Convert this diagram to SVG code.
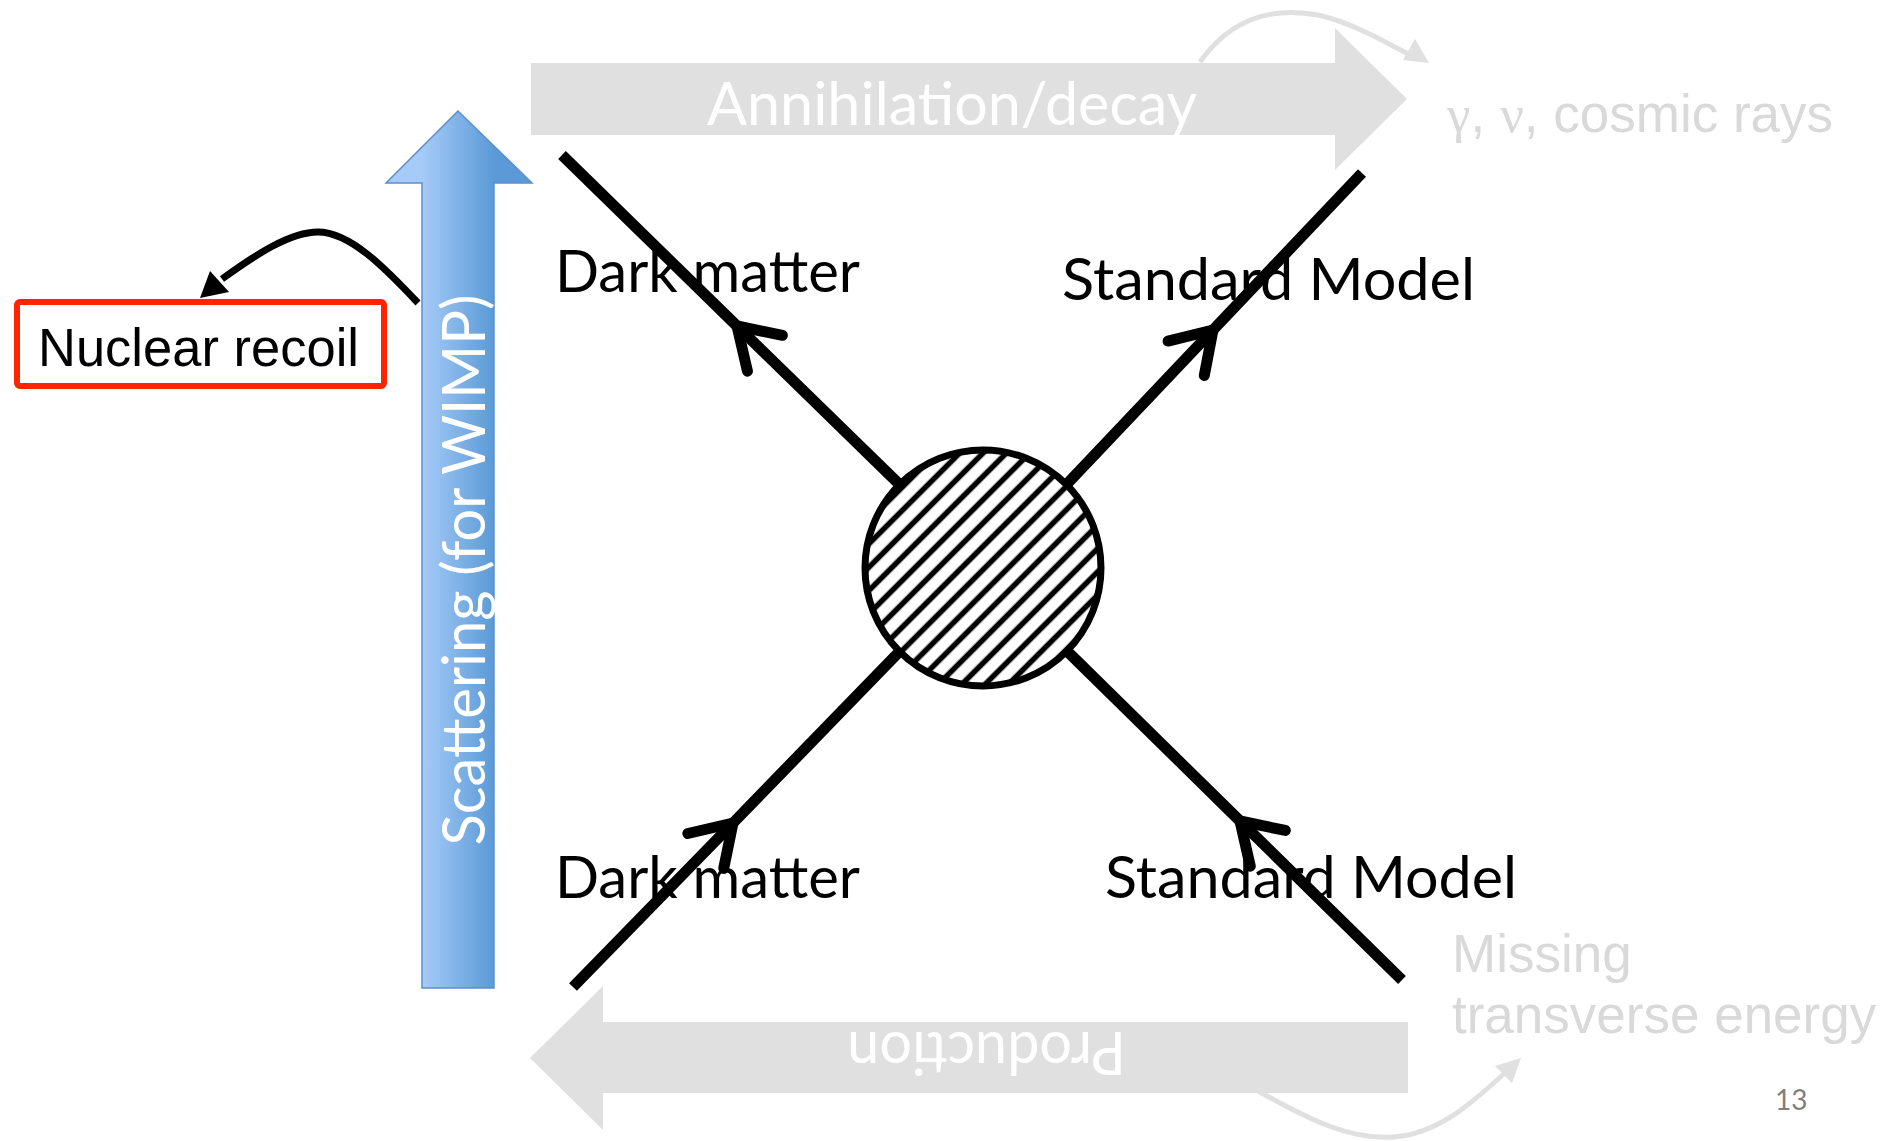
<svg xmlns="http://www.w3.org/2000/svg" width="1890" height="1141" viewBox="0 0 1890 1141">
<style>
.band{fill:#e0e0e0;}
.gcurve{fill:none;stroke:#e0e0e0;stroke-width:5;}
.ghead{fill:#e0e0e0;}
.bandtxt{font-family:Lato,"Open Sans",sans-serif;font-size:60px;fill:#ffffff;}
.lbl{font-family:Lato,"Open Sans",sans-serif;font-size:59px;fill:#000000;}
.gray{font-family:"Liberation Sans",Arial,sans-serif;font-size:53px;fill:#d9d9d9;}
.serif{font-family:"Liberation Serif","Times New Roman",serif;}
.leg{fill:none;stroke:#000;stroke-width:11;marker-mid:url(#chev);}
</style>
<defs>
<marker id="chev" markerUnits="userSpaceOnUse" markerWidth="100" markerHeight="100" refX="0" refY="0" viewBox="-50 -50 100 100" orient="auto" overflow="visible">
<path d="M -39 -25 L 0 0 L -39 25" fill="none" stroke="#000" stroke-width="11" stroke-linecap="round" stroke-linejoin="round"/>
</marker>
<linearGradient id="blue" gradientUnits="userSpaceOnUse" x1="422" y1="0" x2="494" y2="0">
<stop offset="0" stop-color="#a6cbf8"/>
<stop offset="1" stop-color="#5b9ad6"/>
</linearGradient>
<pattern id="hatch" patternUnits="userSpaceOnUse" width="16.5" height="16.5" patternTransform="rotate(-45 983 568)">
<rect width="16.5" height="16.5" fill="#fff"/>
<line x1="0" y1="8.25" x2="16.5" y2="8.25" stroke="#000" stroke-width="5.5"/>
</pattern>
</defs>

<g id="connectors">
<path class="gcurve" d="M 1200 62 C 1235 12, 1280 8, 1318 15 C 1350 22, 1382 40, 1412 56"/>
<polygon class="ghead" points="1429,63 1415,39 1403,60"/>
<path class="gcurve" d="M 1258 1091 C 1310 1120, 1350 1140, 1393 1137 C 1440 1134, 1475 1100, 1507 1071"/>
<polygon class="ghead" points="1521,1058 1495,1066 1512,1083"/>
<path d="M 418 303 C 385 268, 350 232, 318 232 C 290 232, 255 255, 222 279" fill="none" stroke="#000" stroke-width="7"/>
<polygon points="200,298 210,271 229,292" fill="#000"/>
<path class="leg" d="M 898 483 L 737 326 L 562 155"/>
<path class="leg" d="M 1066 485 L 1213 330 L 1362 173"/>
<path class="leg" d="M 573 987 L 733 823 L 900 651"/>
<path class="leg" d="M 1402 980 L 1240 821 L 1067 651"/>
</g>

<g id="annihilation">
<polygon class="band" points="531,63 1335,63 1335,28 1407,99 1335,170 1335,135 531,135"/>
<text class="bandtxt" x="707" y="125" textLength="490" lengthAdjust="spacingAndGlyphs">Annihilation/decay</text>
</g>

<g id="production">
<polygon class="band" points="1408,1022 603,1022 603,986 530,1058 603,1130 603,1093 1408,1093"/>
<text class="bandtxt" x="986.5" y="1032" text-anchor="middle" textLength="279" lengthAdjust="spacingAndGlyphs" transform="rotate(180 986.5 1032)">Production</text>
</g>

<g id="scattering">
<polygon points="458,111 532,183 494,183 494,988 422,988 422,183 386,183" fill="url(#blue)" stroke="#5b8fcf" stroke-width="1.5"/>
<text class="bandtxt" x="0" y="0" text-anchor="middle" textLength="551" lengthAdjust="spacingAndGlyphs" transform="translate(485 570) rotate(-90)">Scattering (for WIMP)</text>
</g>

<g id="vertex">
<circle cx="983" cy="568" r="118" fill="url(#hatch)" stroke="#000" stroke-width="7"/>
</g>

<g id="nuclear-recoil">
<rect x="17" y="302" width="367" height="84" rx="3" fill="#fff" stroke="#ff2500" stroke-width="6"/>
<text x="38" y="366" font-family="'Liberation Sans',Arial,sans-serif" font-size="53" fill="#000" textLength="321" lengthAdjust="spacingAndGlyphs">Nuclear recoil</text>
</g>

<g id="label-dm-top"><text class="lbl" x="555" y="292" textLength="305" lengthAdjust="spacingAndGlyphs">Dark matter</text></g>
<g id="label-sm-top"><text class="lbl" x="1062" y="300" textLength="413" lengthAdjust="spacingAndGlyphs">Standard Model</text></g>
<g id="label-dm-bottom"><text class="lbl" x="555" y="898" textLength="305" lengthAdjust="spacingAndGlyphs">Dark matter</text></g>
<g id="label-sm-bottom"><text class="lbl" x="1105" y="898" textLength="412" lengthAdjust="spacingAndGlyphs">Standard Model</text></g>

<g id="cosmic-rays"><text class="gray" x="1447" y="132"><tspan class="serif">γ</tspan>, <tspan class="serif">ν</tspan>, cosmic rays</text></g>
<g id="missing-et">
<text class="gray" x="1452" y="972" font-size="52">Missing</text>
<text class="gray" x="1452" y="1033" font-size="52">transverse energy</text>
</g>
<text x="1775" y="1110" font-family="Lato,'Open Sans',sans-serif" font-size="28" fill="#7f7f7f">13</text>
</svg>
